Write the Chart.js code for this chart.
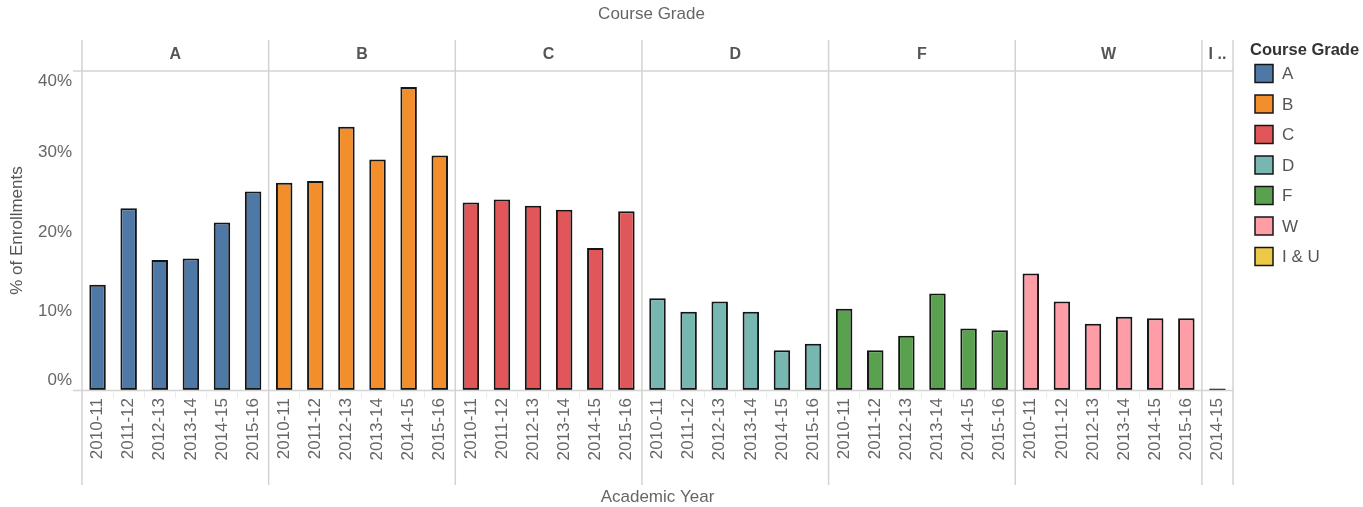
<!DOCTYPE html>
<html>
<head>
<meta charset="utf-8">
<script src="https://cdn.jsdelivr.net/npm/chart.js@4"></script>
<style>
  html, body { margin: 0; padding: 0; background: #fff; }
  #wrap { width: 1363px; height: 507px; position: relative; }
</style>
</head>
<body>
<div id="wrap"><canvas id="c"></canvas></div>
<script>
// ---- data ----
const grades = ['A', 'B', 'C', 'D', 'F', 'W', 'I & U'];
const gradeHeaders = ['A', 'B', 'C', 'D', 'F', 'W', 'I ..'];
const years = ['2010-11', '2011-12', '2012-13', '2013-14', '2014-15', '2015-16'];
const yearsIU = ['2014-15'];
const valuesA = [13.2, 22.8, 16.3, 16.5, 21.0, 24.9];
const valuesB = [26.0, 26.2, 33.0, 28.9, 38.0, 29.4];
const valuesC = [23.5, 23.9, 23.1, 22.6, 17.8, 22.4];
const valuesD = [11.5, 9.8, 11.1, 9.8, 5.0, 5.8];
const valuesF = [10.2, 5.0, 6.8, 12.1, 7.7, 7.5];
const valuesW = [14.6, 11.1, 8.3, 9.2, 9.0, 9.0];
const valuesIU = [0.2];
const yTicks = [0, 10, 20, 30, 40];
const colors = ['#4e79a7', '#f28e2b', '#e15759', '#76b7b2', '#59a14f', '#ff9da7', '#edc948'];

// ---- build table ----
const groupYears = [years, years, years, years, years, years, yearsIU];
const groupValues = [valuesA, valuesB, valuesC, valuesD, valuesF, valuesW, valuesIU];
const labels = [];
const groupStart = [];
groupYears.forEach(ys => { groupStart.push(labels.length); ys.forEach(y => labels.push(y)); });
const datasets = grades.map((g, gi) => {
  const data = labels.map(() => null);
  groupValues[gi].forEach((v, i) => { data[groupStart[gi] + i] = v; });
  return {
    label: g, data,
    backgroundColor: colors[gi],
    borderColor: '#151515',
    borderWidth: 2,
    borderSkipped: false,
    grouped: false,
    categoryPercentage: 1.0,
    barPercentage: 0.53
  };
});

const FONT = "'Liberation Sans', Arial, sans-serif";
const GRID = '#d3d3d3';

const facetPlugin = {
  id: 'facets',
  afterDraw(chart) {
    const ctx = chart.ctx;
    const x = chart.scales.x, y = chart.scales.y;
    const area = chart.chartArea;
    const half = (x.getPixelForValue(1) - x.getPixelForValue(0)) / 2;
    const bounds = groupStart.map(s => x.getPixelForValue(s) - half);
    bounds.push(area.right);
    ctx.save();
    ctx.strokeStyle = GRID;
    ctx.lineWidth = 1.5;
    // horizontal lines
    ctx.beginPath();
    ctx.moveTo(73, area.top); ctx.lineTo(area.right, area.top);
    ctx.moveTo(73, area.bottom + 0.5); ctx.lineTo(area.right, area.bottom + 0.5);
    ctx.stroke();
    // vertical separators
    ctx.beginPath();
    bounds.forEach(b => { ctx.moveTo(b, 40); ctx.lineTo(b, 485); });
    ctx.stroke();
    // facet headers
    ctx.fillStyle = '#555';
    ctx.font = 'bold 16px ' + FONT;
    ctx.textAlign = 'center';
    ctx.textBaseline = 'middle';
    gradeHeaders.forEach((h, i) => {
      ctx.fillText(h, (bounds[i] + bounds[i + 1]) / 2, 55);
    });
    // top title
    ctx.font = '17px ' + FONT;
    ctx.fillStyle = '#666';
    ctx.fillText('Course Grade', (area.left + area.right) / 2 - 6, 14);
    // y tick labels
    ctx.font = '17px ' + FONT;
    ctx.fillStyle = '#666';
    ctx.textAlign = 'right';
    yTicks.forEach(v => {
      let py = y.getPixelForValue(v) + 1.5;
      py = Math.min(Math.max(py, area.top + 10), area.bottom - 10);
      ctx.fillText(v + '%', 72, py);
    });
    // legend
    ctx.textAlign = 'left';
    ctx.fillStyle = '#333';
    ctx.font = 'bold 16.5px ' + FONT;
    ctx.fillText('Course Grade', 1250, 50);
    ctx.font = '17px ' + FONT;
    grades.forEach((g, i) => {
      const cy = 73.5 + i * 30.5;
      ctx.fillStyle = colors[i];
      ctx.fillRect(1255, cy - 9, 18, 18);
      ctx.strokeStyle = '#151515';
      ctx.lineWidth = 1.5;
      ctx.strokeRect(1255, cy - 9, 18, 18);
      ctx.fillStyle = '#555';
      ctx.fillText(g, 1282, cy + 1);
    });
    ctx.restore();
  }
};

new Chart(document.getElementById('c'), {
  type: 'bar',
  data: { labels, datasets },
  options: {
    responsive: true,
    maintainAspectRatio: false,
    animation: false,
    layout: { padding: { top: 71, right: 130, left: 0, bottom: 0 } },
    plugins: { legend: { display: false }, title: { display: false }, tooltip: { enabled: false } },
    scales: {
      x: {
        type: 'category',
        offset: true,
        afterFit(s) { s.height = 117; },
        grid: { display: true, offset: true, drawOnChartArea: false, drawTicks: true, tickLength: 8, color: '#ececec', lineWidth: 1 },
        border: { display: false },
        ticks: { autoSkip: false, maxRotation: 90, minRotation: 90, padding: 0, color: '#666', font: { family: FONT, size: 17 } },
        title: { display: true, text: 'Academic Year', color: '#666', font: { family: FONT, size: 17 }, padding: { top: 0, bottom: -1 } }
      },
      y: {
        min: 0, max: 40,
        afterFit(s) { s.width = 82; },
        grid: { display: false },
        border: { display: false },
        ticks: { display: false, stepSize: 10 },
        title: { display: true, text: '% of Enrollments', color: '#555', font: { family: FONT, size: 17 }, padding: { top: 7, bottom: 0 } }
      }
    }
  },
  plugins: [facetPlugin]
});
</script>
</body>
</html>
